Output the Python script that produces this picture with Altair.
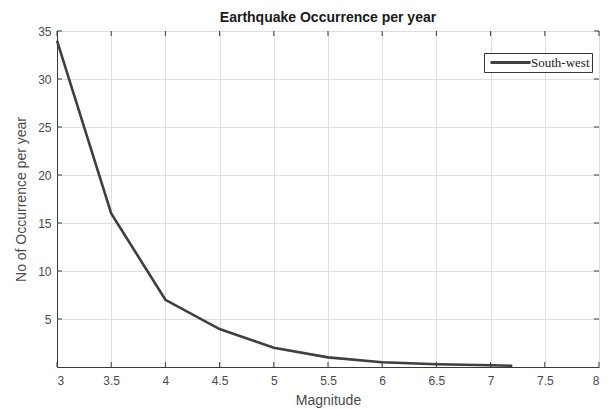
import altair as alt
import pandas as pd

magnitude = [3.0, 3.5, 4.0, 4.5, 5.0, 5.5, 6.0, 6.5, 7.0, 7.2]
occurrence = [34.0, 16.0, 7.0, 3.95, 2.0, 1.0, 0.5, 0.28, 0.18, 0.12]
series = ["South-west"] * len(magnitude)

x_ticks = [3, 3.5, 4, 4.5, 5, 5.5, 6, 6.5, 7, 7.5, 8]
y_ticks = [5, 10, 15, 20, 25, 30, 35]

df = pd.DataFrame({"Magnitude": magnitude, "Occ": occurrence, "Series": series})
xt = pd.DataFrame({"t": x_ticks})
yt = pd.DataFrame({"t": y_ticks})

W, H = 542, 336
AX = "#3a3a3a"
LBL = "#4a4a4a"
FONT = "Liberation Sans"

xscale = alt.Scale(domain=[3, 8], nice=False, zero=False)
yscale = alt.Scale(domain=[0, 35], nice=False, zero=False)

line = alt.Chart(df).mark_line(strokeWidth=2.6).encode(
    x=alt.X("Magnitude:Q", scale=xscale,
            axis=alt.Axis(values=x_ticks, title="Magnitude", format="~g",
                          grid=True, gridColor="#dedede", gridWidth=1,
                          domainColor=AX, domainWidth=1, ticks=False,
                          labelFont=FONT, labelFontSize=12, labelColor=LBL,
                          labelPadding=8, titleFont=FONT, titleFontSize=14,
                          titleFontWeight="normal", titleColor=LBL, titlePadding=7)),
    y=alt.Y("Occ:Q", scale=yscale,
            axis=alt.Axis(values=y_ticks, title="No of Occurrence per year",
                          grid=True, gridColor="#dedede", gridWidth=1,
                          domainColor=AX, domainWidth=1, ticks=False,
                          labelFont=FONT, labelFontSize=12, labelColor=LBL,
                          labelPadding=6, titleFont=FONT, titleFontSize=14,
                          titleFontWeight="normal", titleColor=LBL, titlePadding=9)),
    color=alt.Color("Series:N", scale=alt.Scale(range=["#3f3f3f"]),
                    legend=alt.Legend(title=None, orient="none", legendX=427, legendY=22,
                                      symbolType="M-3.33,0H3.33", symbolSize=144,
                                      symbolStrokeWidth=3, symbolOffset=17,
                                      labelFont="Liberation Serif",
                                      labelFontSize=13, labelColor="#222222",
                                      strokeColor="#333333", fillColor="white",
                                      padding=2, labelOffset=13)),
)

# inward ticks on all four sides
tb = alt.Chart(xt).mark_rule(color=AX, strokeWidth=1).encode(
    x=alt.X("t:Q", scale=xscale), y=alt.value(H), y2=alt.value(H - 5))
tt = alt.Chart(xt).mark_rule(color=AX, strokeWidth=1).encode(
    x=alt.X("t:Q", scale=xscale), y=alt.value(0), y2=alt.value(5))
tl = alt.Chart(yt).mark_rule(color=AX, strokeWidth=1).encode(
    y=alt.Y("t:Q", scale=yscale), x=alt.value(0), x2=alt.value(5))
tr = alt.Chart(yt).mark_rule(color=AX, strokeWidth=1).encode(
    y=alt.Y("t:Q", scale=yscale), x=alt.value(W), x2=alt.value(W - 5))

chart = alt.layer(line, tb, tt, tl, tr).properties(
    width=W, height=H,
    title=alt.Title("Earthquake Occurrence per year", font=FONT, fontSize=14,
                    fontWeight="bold", color="#1a1a1a", offset=0),
    autosize=alt.AutoSizeParams(type="none"),
    padding={"left": 49, "top": 23, "right": 3, "bottom": 43},
).configure_view(stroke=AX, strokeWidth=1).configure(background="white")

chart.save("out.html", embed_options={"renderer": "svg", "actions": False})
